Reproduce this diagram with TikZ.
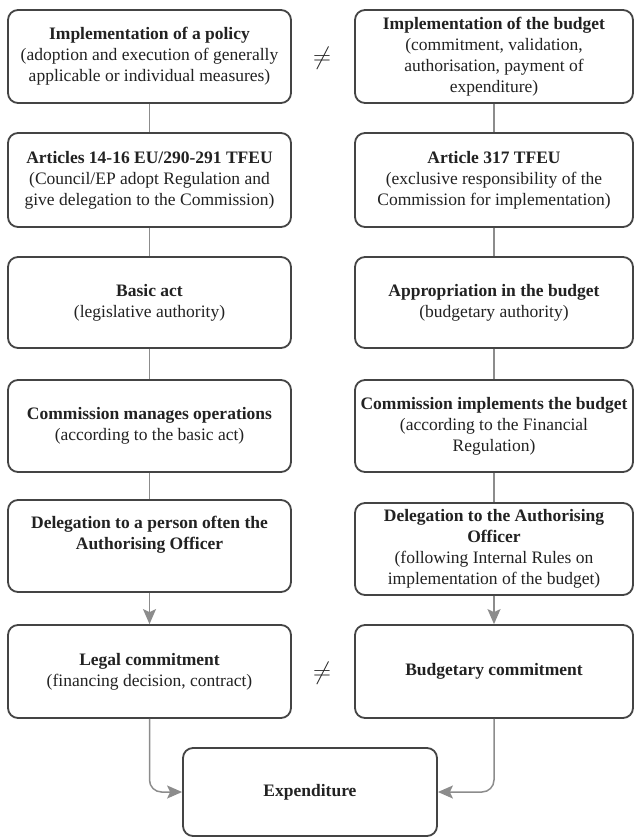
\documentclass[tikz,border=0pt]{standalone}
\usepackage{fontspec}
\setmainfont{Liberation Serif}
\usetikzlibrary{arrows.meta}
\definecolor{boxgray}{HTML}{444444}
\definecolor{linegray}{HTML}{8C8C8C}
\definecolor{inkgray}{HTML}{222222}
\begin{document}
\begin{tikzpicture}[x=1pt,y=-1pt,
  box/.style={draw=boxgray, line width=1.8pt, rounded corners=10pt, fill=white,
    align=center, inner sep=0pt, text=inkgray,
    font=\fontsize{17.5}{21}\selectfont},
  lbox/.style={box, minimum width=283pt},
  rbox/.style={box, minimum width=278pt},
  conn/.style={draw=linegray, line width=1.5pt},
  arr/.style={conn, -{Stealth[length=15pt,width=13pt,inset=3pt]}},
  neq/.style={text=inkgray, font=\fontsize{24}{24}\selectfont}]
\useasboundingbox (0,0) rectangle (635,838);

% left column: policy side
\node[lbox, minimum height=93pt] (L1) at (149.5,56.5)
  {\textbf{Implementation of a policy}\\(adoption and execution of generally\\applicable or individual measures)};
\node[lbox, minimum height=94pt] (L2) at (149.5,180)
  {\textbf{Articles 14-16 EU/290-291 TFEU}\\(Council/EP adopt Regulation and\\give delegation to the Commission)};
\node[lbox, minimum height=91pt] (L3) at (149.5,302.5)
  {\textbf{Basic act}\\(legislative authority)};
\node[lbox, minimum height=92pt] (L4) at (149.5,426)
  {\textbf{Commission manages operations}\\(according to the basic act)};
\node[lbox, minimum height=92pt] (L5) at (149.5,546)
  {\textbf{Delegation to a person often the}\\\textbf{Authorising Officer}\\\strut};
\node[lbox, minimum height=93pt] (L6) at (149.5,671.5)
  {\textbf{Legal commitment}\\(financing decision, contract)};

% right column: budget side
\node[rbox, minimum height=93pt] (R1) at (494,56.5)
  {\textbf{Implementation of the budget}\\(commitment, validation,\\authorisation, payment of\\expenditure)};
\node[rbox, minimum height=94pt] (R2) at (494,180)
  {\textbf{Article 317 TFEU}\\(exclusive responsibility of the\\Commission for implementation)};
\node[rbox, minimum height=91pt] (R3) at (494,302.5)
  {\textbf{Appropriation in the budget}\\(budgetary authority)};
\node[rbox, minimum height=92pt] (R4) at (494,426)
  {\textbf{Commission implements the budget}\\(according to the Financial\\Regulation)};
\node[rbox, minimum height=92pt] (R5) at (494,549)
  {\textbf{Delegation to the Authorising}\\\textbf{Officer}\\(following Internal Rules on\\implementation of the budget)};
\node[rbox, minimum height=93pt] (R6) at (494,671.5)
  {\textbf{Budgetary commitment}};

% common outcome
\node[box, minimum width=254pt, minimum height=88pt] (E) at (310,792)
  {\textbf{Expenditure}};

% inequality marks between the columns
\node[neq] (N1) at (322,58) {$\neq$};
\node[neq] (N2) at (322,673) {$\neq$};

% plain links
\foreach \a/\b in {L1/L2,L2/L3,L3/L4,L4/L5,R1/R2,R2/R3,R3/R4,R4/R5}
  \draw[conn] (\a.south) -- (\b.north);

% arrows
\draw[arr] (L5.south) -- (L6.north);
\draw[arr] (R5.south) -- (R6.north);
\draw[arr, rounded corners=12pt] (L6.south) |- (E.west);
\draw[arr, rounded corners=12pt] (R6.south) |- (E.east);
\end{tikzpicture}
\end{document}
